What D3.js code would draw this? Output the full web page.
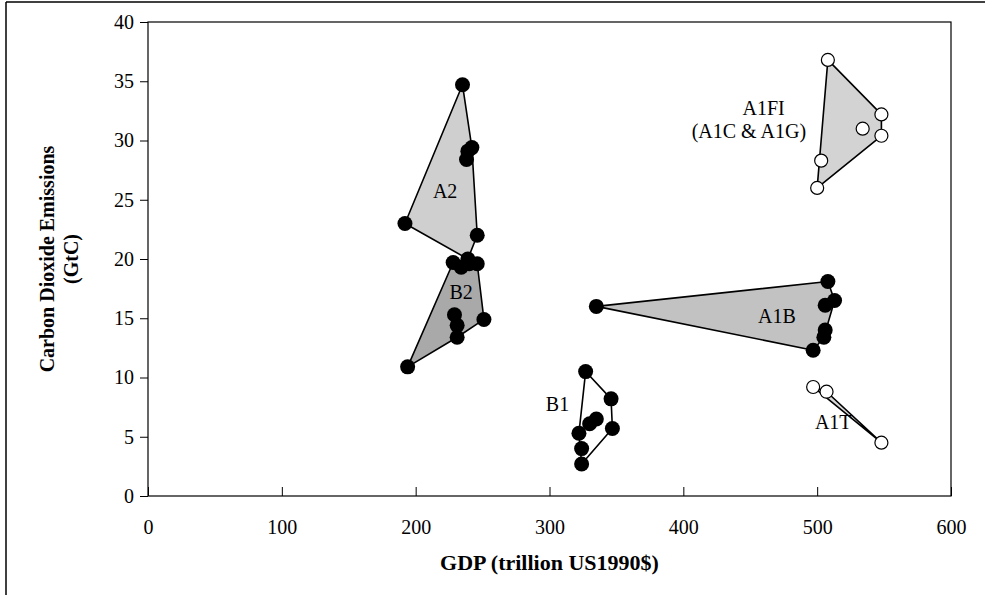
<!DOCTYPE html>
<html>
<head>
<meta charset="utf-8">
<script src="https://cdn.jsdelivr.net/npm/d3@7"></script>
<style>
  body { margin: 0; background: #fff; }
  svg { display: block; font-family: "Liberation Serif", "Times New Roman", serif; }
  .axis-title { font-size: 22px; font-weight: bold; }
  .scen-label { font-size: 20px; }
</style>
</head>
<body>
<div id="chart"></div>
<script>
// scenario points: [GDP trillion US1990$, CO2 GtC]
const a2Points = [[235, 34.7], [242, 29.4], [239, 29.1], [238, 28.4], [192, 23.0], [246, 22.0], [239, 20.0]];
const b2Points = [[228, 19.7], [234, 19.3], [240, 19.6], [246, 19.6], [229, 15.3], [231, 14.4], [231, 13.4], [251, 14.9], [194, 10.9]];
const a1bPoints = [[335, 16.0], [508, 18.1], [513, 16.5], [506, 16.1], [506, 14.0], [505, 13.4], [497, 12.3]];
const b1Points = [[327, 10.5], [346, 8.2], [335, 6.5], [330, 6.1], [322, 5.3], [347, 5.7], [324, 4.0], [324, 2.7]];
const a1fiPoints = [[508, 36.8], [548, 32.2], [534, 31.0], [548, 30.4], [503, 28.3], [500, 26.0]];
const a1tPoints = [[497, 9.2], [507, 8.8], [548, 4.5]];

const xTicks = [0, 100, 200, 300, 400, 500, 600];
const yTicks = [0, 5, 10, 15, 20, 25, 30, 35, 40];

// scenario labels, anchored in data units
const scenarioLabels = [
  { text: "A2", x: 222, y: 25.5 },
  { text: "B2", x: 234, y: 17.0 },
  { text: "A1B", x: 470, y: 15.0 },
  { text: "B1", x: 306, y: 7.6 },
  { text: "A1T", x: 512, y: 6.0 },
  { text: "A1FI", x: 460, y: 32.5 },
  { text: "(A1C & A1G)", x: 449, y: 30.6 }
];

const groups = [
  { pts: a2Points, fill: "#cfcfcf", open: false },
  { pts: b2Points, fill: "#a9a9a9", open: false },
  { pts: a1bPoints, fill: "#c2c2c2", open: false },
  { pts: b1Points, fill: "#ffffff", open: false },
  { pts: a1fiPoints, fill: "#d3d3d3", open: true },
  { pts: a1tPoints, fill: "#d8d8d8", open: true }
];

const width = 985, height = 595;
const margin = { top: 22, right: 34, bottom: 99, left: 148 };

const svg = d3.select("#chart").append("svg")
  .attr("width", width)
  .attr("height", height);

// outer frame lines
svg.append("line").attr("x1", 6).attr("x2", width).attr("y1", 2).attr("y2", 2)
  .attr("stroke", "#000").attr("stroke-width", 1.5);
svg.append("line").attr("x1", 6).attr("x2", 6).attr("y1", 2).attr("y2", height)
  .attr("stroke", "#000").attr("stroke-width", 1.5);

const x = d3.scaleLinear().domain([0, 600]).range([margin.left, width - margin.right]);
const y = d3.scaleLinear().domain([0, 40]).range([height - margin.bottom, margin.top]);

// plot box
svg.append("rect")
  .attr("x", x(0)).attr("y", y(40))
  .attr("width", x(600) - x(0)).attr("height", y(0) - y(40))
  .attr("fill", "none").attr("stroke", "#000").attr("stroke-width", 1.2);

// x axis: ticks pointing inward
const xAxis = svg.append("g")
  .attr("transform", `translate(0,${y(0)})`)
  .call(d3.axisBottom(x).tickValues(xTicks).tickSizeInner(-9).tickSizeOuter(0).tickPadding(24));
xAxis.select(".domain").remove();
xAxis.selectAll("text").attr("fill", "#000")
  .style("font-family", "Liberation Serif").style("font-size", "20px");

// y axis: ticks pointing outward
const yAxis = svg.append("g")
  .attr("transform", `translate(${x(0)},0)`)
  .call(d3.axisLeft(y).tickValues(yTicks).tickSizeInner(8).tickSizeOuter(0).tickPadding(6));
yAxis.select(".domain").remove();
yAxis.selectAll("text").attr("fill", "#000")
  .style("font-family", "Liberation Serif").style("font-size", "20px");

// polygons (convex hull of each scenario's points)
groups.forEach(g => {
  const hull = d3.polygonHull(g.pts.map(p => [x(p[0]), y(p[1])]));
  svg.append("path")
    .attr("d", "M" + hull.join("L") + "Z")
    .attr("fill", g.fill)
    .attr("stroke", "#000")
    .attr("stroke-width", 1.6)
    .attr("stroke-linejoin", "round");
});

// labels
svg.selectAll(".scen-label")
  .data(scenarioLabels)
  .enter()
  .append("text")
  .attr("class", "scen-label")
  .attr("x", d => x(d.x))
  .attr("y", d => y(d.y))
  .attr("text-anchor", "middle")
  .attr("dominant-baseline", "middle")
  .text(d => d.text);

// markers
groups.forEach(g => {
  svg.append("g").selectAll("circle")
    .data(g.pts)
    .enter()
    .append("circle")
    .attr("cx", d => x(d[0]))
    .attr("cy", d => y(d[1]))
    .attr("r", g.open ? 6.5 : 7.5)
    .attr("fill", g.open ? "#fff" : "#000")
    .attr("stroke", "#000")
    .attr("stroke-width", g.open ? 1.2 : 0);
});

// axis titles
svg.append("text")
  .attr("class", "axis-title")
  .attr("x", (x(0) + x(600)) / 2)
  .attr("y", 570)
  .attr("text-anchor", "middle")
  .text("GDP (trillion US1990$)");

const yTitle = svg.append("text")
  .attr("class", "axis-title")
  .style("font-size", "20px")
  .attr("transform", `translate(54,${(y(0) + y(40)) / 2}) rotate(-90)`)
  .attr("text-anchor", "middle");
yTitle.append("tspan").attr("x", 0).attr("dy", 0).text("Carbon Dioxide Emissions");
yTitle.append("tspan").attr("x", 0).attr("dy", 24).text("(GtC)");
</script>
</body>
</html>
